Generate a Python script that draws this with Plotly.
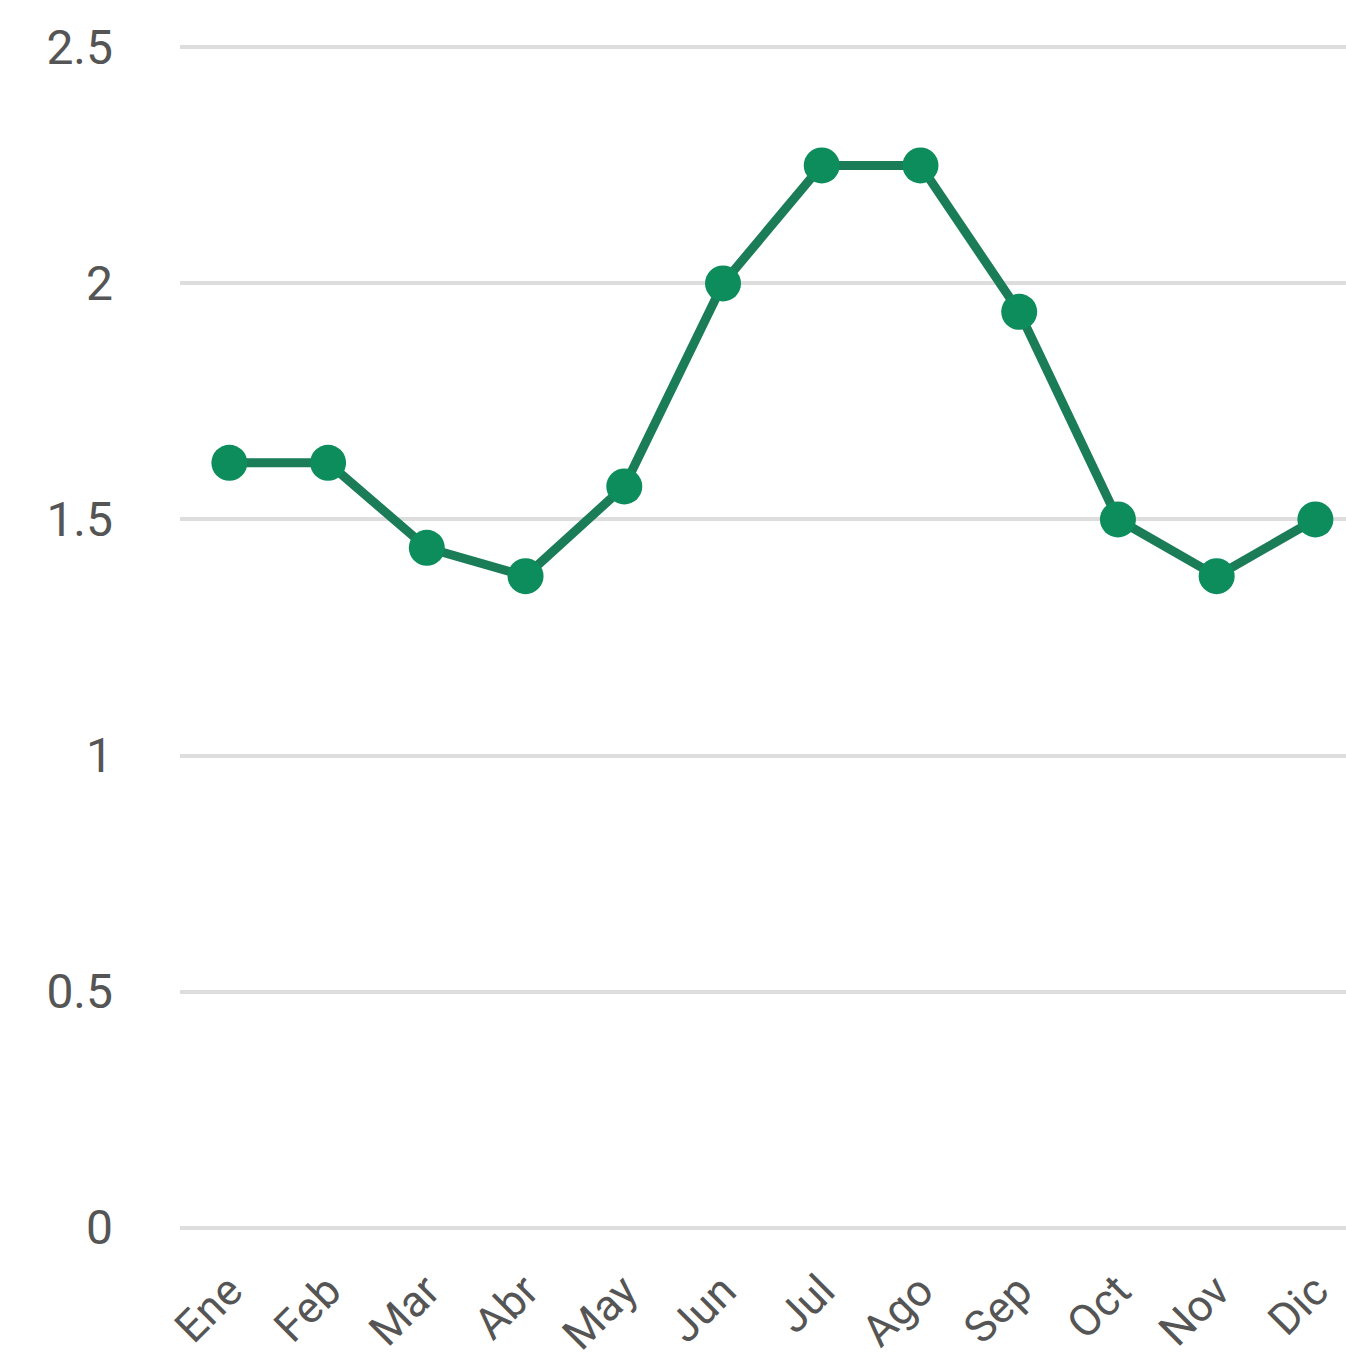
import plotly.graph_objects as go

# Monthly values
months = ["Ene", "Feb", "Mar", "Abr", "May", "Jun", "Jul", "Ago", "Sep", "Oct", "Nov", "Dic"]
values = [1.62, 1.62, 1.44, 1.38, 1.57, 2.0, 2.25, 2.25, 1.94, 1.5, 1.38, 1.5]
y_ticks = [0, 0.5, 1, 1.5, 2, 2.5]
y_tick_labels = ["0", "0.5", "1", "1.5", "2", "2.5"]

fig = go.Figure(
    go.Scatter(
        x=list(range(len(months))),
        y=values,
        mode="lines+markers",
        line=dict(color="#1b7d57", width=9),
        marker=dict(color="#0d8c5c", size=36),
        cliponaxis=False,
    )
)

fig.update_layout(
    width=1346,
    height=1367,
    margin=dict(l=180, r=0, t=46, b=138),
    paper_bgcolor="white",
    plot_bgcolor="white",
    showlegend=False,
    font=dict(family="Roboto", color="#555555"),
)

fig.update_xaxes(
    range=[-0.5, 11.31],
    tickmode="array",
    tickvals=list(range(len(months))),
    ticktext=months,
    tickangle=-45,
    tickfont=dict(size=44, color="#555555"),
    showgrid=False,
    zeroline=False,
    showline=False,
    ticks="",
    ticklabelstandoff=26,
    automargin=False,
)

fig.update_yaxes(
    range=[-0.003, 2.503],
    tickmode="array",
    tickvals=y_ticks,
    ticktext=y_tick_labels,
    tickfont=dict(size=48, color="#555555"),
    showgrid=True,
    gridcolor="#dddddd",
    gridwidth=4,
    zeroline=False,
    showline=False,
    ticks="",
    ticklabelstandoff=66,
    automargin=False,
)

fig.write_html("out.html")
